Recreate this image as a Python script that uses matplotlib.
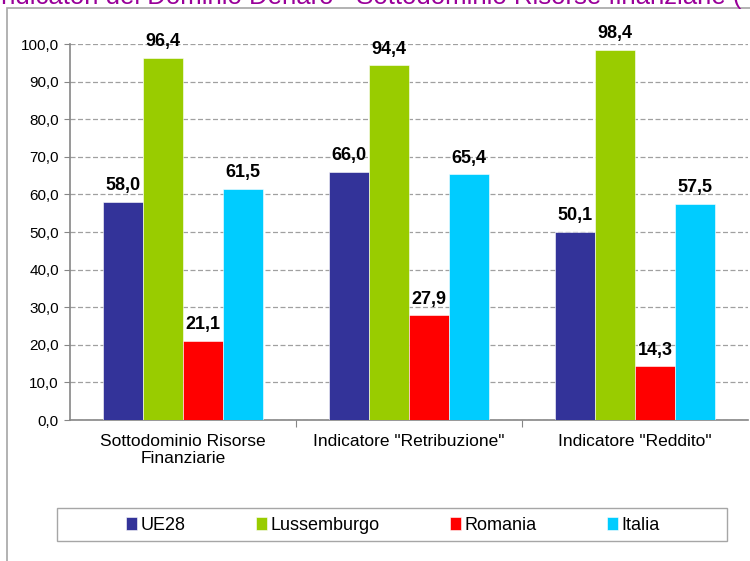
import numpy as np
import matplotlib
matplotlib.use("Agg")
import matplotlib.pyplot as plt
from matplotlib.patches import Rectangle

plt.rcParams['font.family'] = ['Liberation Sans', 'DejaVu Sans']

# data
categories = ['Sottodominio Risorse\nFinanziarie', 'Indicatore "Retribuzione"', 'Indicatore "Reddito"']
series_names = ['UE28', 'Lussemburgo', 'Romania', 'Italia']
ue28 = [58.0, 66.0, 50.1]
lussemburgo = [96.4, 94.4, 98.4]
romania = [21.1, 27.9, 14.3]
italia = [61.5, 65.4, 57.5]
colors = ['#333399', '#99CC00', '#FF0000', '#00CCFF']
y_ticks = [0, 10, 20, 30, 40, 50, 60, 70, 80, 90, 100]
title = 'Indicatori del Dominio Denaro - Sottodominio Risorse finanziarie ('

W, H = 750, 561
fig = plt.figure(figsize=(7.5, 5.61), dpi=100)

# outer chart frame (cut by the image edge)
fig.patches.append(Rectangle((7 / W, -0.1), 1.2, 1 - 8 / H + 0.1,
                             transform=fig.transFigure, fill=False,
                             edgecolor='#A6A6A6', linewidth=1.2))

# title, mostly cropped off the top
fig.text(-0.008, 1 + 3 / H, title, ha='left', va='center', color='#990099',
         fontsize=18.5)

ax = fig.add_axes([70 / W, 1 - 420 / H, 678 / W, 376 / H])

x = np.arange(len(categories))
width = 0.178
all_series = [ue28, lussemburgo, romania, italia]
for i, (name, vals) in enumerate(zip(series_names, all_series)):
    pos = x + (i - 1.5) * width
    bars = ax.bar(pos, vals, width, color=colors[i], edgecolor='white',
                  linewidth=0.4, label=name, zorder=3)
    for b, v in zip(bars, vals):
        ax.text(b.get_x() + b.get_width() / 2, v + 2.0, f'{v:.1f}'.replace('.', ','),
                ha='center', va='bottom', fontsize=13, fontweight='bold')

ax.set_xlim(-0.5, 2.5)
ax.set_ylim(0, 100)
ax.set_yticks(y_ticks)
ax.set_yticklabels([f'{t:.1f}'.replace('.', ',') for t in y_ticks], fontsize=11)
ax.yaxis.grid(True, linestyle=(0, (4, 2)), color='#A0A0A0', linewidth=0.9, zorder=0)
ax.set_axisbelow(True)

ax.set_xticks([0.5, 1.5])
ax.set_xticklabels([])
ax.tick_params(axis='x', length=5, color='#868686', direction='out')
ax.set_xticks(x, minor=True)
ax.set_xticklabels(categories, minor=True, fontsize=12.5)
ax.tick_params(axis='x', which='minor', length=0, pad=10)
ax.tick_params(axis='y', length=4, color='#868686', pad=4)

for s in ['top', 'right']:
    ax.spines[s].set_visible(False)
for s in ['left', 'bottom']:
    ax.spines[s].set_color('#868686')
    ax.spines[s].set_linewidth(1.2)

# legend box drawn separately, wider than its entries
fig.patches.append(Rectangle((57 / W, 1 - 541 / H), 670 / W, 33 / H,
                             transform=fig.transFigure, fill=False,
                             edgecolor='#A6A6A6', linewidth=1.0))
fig.legend(loc='center', bbox_to_anchor=(393 / W, 1 - 525 / H),
           ncol=4, frameon=False, fontsize=13, handlelength=0.6,
           handleheight=0.7, handletextpad=0.2, columnspacing=3.9)

fig.savefig('out.png', dpi=100)
